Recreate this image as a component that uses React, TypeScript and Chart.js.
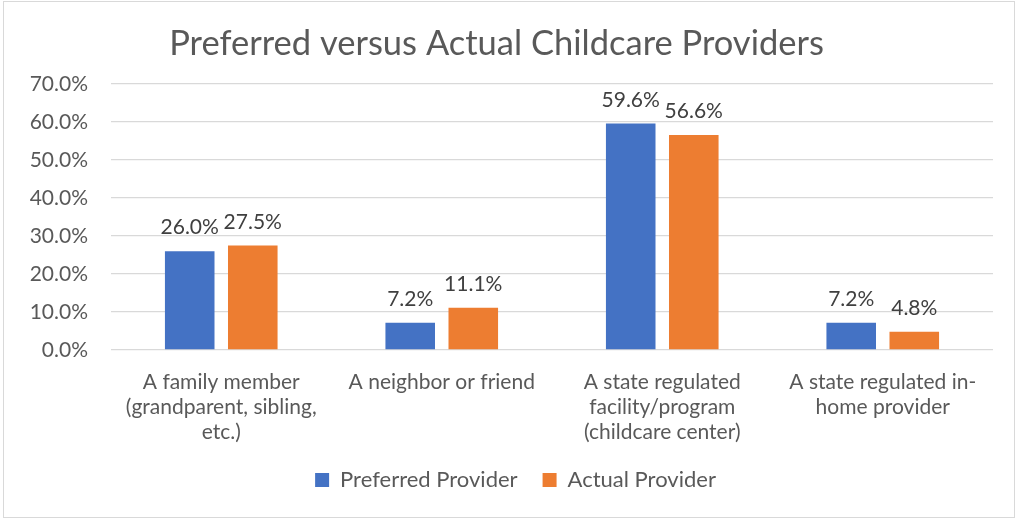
import React, { useEffect, useRef } from "react";
import { Chart, registerables } from "chart.js";

Chart.register(...registerables);

const categories: string[][] = [
  ["A family member", "(grandparent, sibling,", "etc.)"],
  ["A neighbor or friend"],
  ["A state regulated", "facility/program", "(childcare center)"],
  ["A state regulated in-", "home provider"],
];
const preferredValues: number[] = [26.0, 7.2, 59.6, 7.2];
const actualValues: number[] = [27.5, 11.1, 56.6, 4.8];
const seriesNames: string[] = ["Preferred Provider", "Actual Provider"];
const titleText = "Preferred versus Actual Childcare Providers";

const FONT = "Lato, 'Open Sans', sans-serif";

const dataLabelPlugin = {
  id: "dataLabels",
  afterDatasetsDraw(chart: any) {
    const ctx = chart.ctx;
    ctx.save();
    ctx.font = `21px ${FONT}`;
    ctx.fillStyle = "#404040";
    ctx.textAlign = "center";
    ctx.textBaseline = "alphabetic";
    chart.data.datasets.forEach((ds: any, di: number) => {
      const meta = chart.getDatasetMeta(di);
      meta.data.forEach((bar: any, i: number) => {
        const v = ds.data[i] as number;
        ctx.fillText(v.toFixed(1) + "%", bar.x, bar.y - 17);
      });
    });
    ctx.restore();
  },
};

const legendShiftPlugin = {
  id: "legendShift",
  afterLayout(chart: any) {
    const lg = chart.legend;
    if (lg) {
      lg.left += 19;
      lg.right += 19;
    }
  },
};

export default function App() {
  const ref = useRef<HTMLCanvasElement>(null);
  useEffect(() => {
    if (!ref.current) return;
    const chart = new Chart(ref.current, {
      type: "bar",
      data: {
        labels: categories,
        datasets: [
          {
            label: seriesNames[0],
            data: preferredValues,
            backgroundColor: "#4472C4",
            categoryPercentage: 0.572,
            barPercentage: 0.786,
          },
          {
            label: seriesNames[1],
            data: actualValues,
            backgroundColor: "#ED7D31",
            categoryPercentage: 0.572,
            barPercentage: 0.786,
          },
        ],
      },
      options: {
        animation: false,
        responsive: false,
        maintainAspectRatio: false,
        layout: { padding: { left: 0, right: 28, top: 0, bottom: 17 } },
        plugins: {
          title: {
            display: true,
            text: titleText,
            color: "#595959",
            font: { family: FONT, size: 34.5, weight: "normal" },
            padding: { top: 23.3, bottom: 19.3 },
          },
          legend: {
            position: "bottom",
            labels: {
              color: "#595959",
              font: { family: FONT, size: 22 },
              boxWidth: 14,
              boxHeight: 14,
              padding: 25,
            },
          },
          tooltip: { enabled: false },
        },
        scales: {
          x: {
            grid: { display: false },
            border: { display: false },
            ticks: {
              color: "#595959",
              font: { family: FONT, size: 21, lineHeight: 1.19 },
              maxRotation: 0,
              autoSkip: false,
              padding: 12,
            },
            afterFit: (scale: any) => {
              scale.height = 94;
            },
          },
          y: {
            min: 0,
            max: 70,
            grid: { color: "#d9d9d9", drawTicks: false, lineWidth: 1.3 },
            border: { display: false },
            ticks: {
              stepSize: 10,
              color: "#595959",
              font: { family: FONT, size: 21 },
              padding: 23,
              callback: (v: any) => Number(v).toFixed(1) + "%",
            },
            afterFit: (scale: any) => {
              scale.width = 111;
            },
          },
        },
      },
      plugins: [dataLabelPlugin, legendShiftPlugin],
    });
    return () => chart.destroy();
  }, []);

  return (
    <div style={{ position: "fixed", left: 0, top: 0, width: 1021, height: 518, background: "#fff" }}>
      <canvas ref={ref} width={1021} height={518} style={{ position: "absolute", left: 0, top: 0 }} />
      <div
        style={{
          position: "absolute",
          left: 3,
          top: 1,
          width: 1010,
          height: 515,
          border: "1px solid #d9d9d9",
          pointerEvents: "none",
        }}
      />
    </div>
  );
}
